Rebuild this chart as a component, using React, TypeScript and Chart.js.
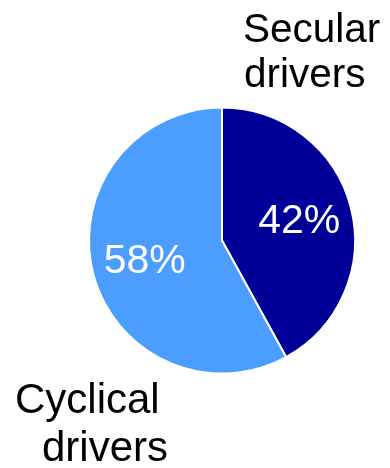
import React, { useEffect, useRef } from "react";
import { Chart, registerables } from "chart.js";

Chart.register(...registerables);

const categories = ["Secular drivers", "Cyclical drivers"];
const values = [42, 58];
const colors = ["#000099", "#4B9DFF"];
const pctLabels = ["42%", "58%"];

const FONT = "'Liberation Sans', Arial, sans-serif";

const labelPlugin = {
  id: "customLabels",
  afterDatasetsDraw(chart: any) {
    const ctx = chart.ctx;
    const meta = chart.getDatasetMeta(0);
    ctx.save();
    ctx.font = "41px " + FONT;
    ctx.fillStyle = "#ffffff";
    ctx.textAlign = "center";
    ctx.textBaseline = "middle";
    meta.data.forEach((arc: any, i: number) => {
      const { x, y, startAngle, endAngle, outerRadius } = arc.getProps(
        ["x", "y", "startAngle", "endAngle", "outerRadius"],
        true
      );
      const mid = (startAngle + endAngle) / 2;
      const r = outerRadius * 0.6;
      ctx.fillText(pctLabels[i], x + Math.cos(mid) * r, y + Math.sin(mid) * r + 1);
    });
    // outer category labels
    ctx.fillStyle = "#000000";
    ctx.textAlign = "left";
    ctx.textBaseline = "alphabetic";
    const [s1, s2] = categories[0].split(" ");
    const [c1, c2] = categories[1].split(" ");
    ctx.font = "40.5px " + FONT;
    ctx.fillText(s1, 243, 42);
    ctx.fillText(s2, 244, 87);
    ctx.font = "42px " + FONT;
    ctx.fillText(c1, 15, 413);
    ctx.fillText(c2, 42, 461);
    ctx.restore();
  },
};

export default function App() {
  const ref = useRef<HTMLCanvasElement>(null);
  useEffect(() => {
    if (!ref.current) return;
    const chart = new Chart(ref.current, {
      type: "pie",
      data: {
        labels: categories,
        datasets: [
          {
            data: values,
            backgroundColor: colors,
            borderColor: "#ffffff",
            borderWidth: 2,
          },
        ],
      },
      options: {
        responsive: false,
        animation: false,
        radius: 133,
        layout: { padding: { left: 54, right: 0, top: 13, bottom: 0 } },
        plugins: {
          legend: { display: false },
          tooltip: { enabled: false },
        },
      } as any,
      plugins: [labelPlugin],
    });
    return () => chart.destroy();
  }, []);
  return (
    <div style={{ position: "absolute", left: 0, top: 0, width: 390, height: 468 }}>
      <canvas ref={ref} width={390} height={468} />
    </div>
  );
}
